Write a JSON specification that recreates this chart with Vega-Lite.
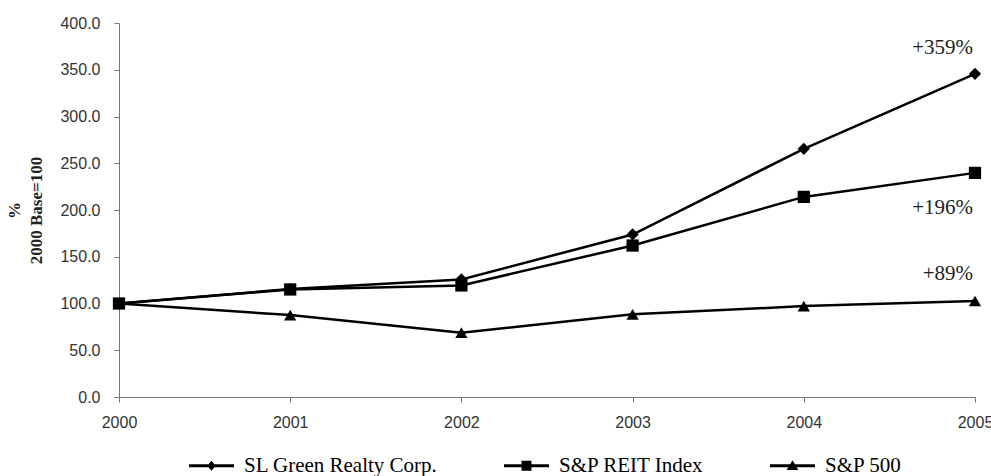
{
  "$schema": "https://vega.github.io/schema/vega-lite/v6.json",
  "width": 856,
  "height": 374,
  "autosize": {"type": "none"},
  "padding": {"left": 119, "top": 23, "right": 16, "bottom": 79},
  "background": "white",
  "config": {"view": {"stroke": null}, "axis": {"grid": false}},
  "data": {
    "values": [
      {"series": "SL Green Realty Corp.", "year": 2000, "value": 100},
      {"series": "SL Green Realty Corp.", "year": 2001, "value": 115.5},
      {"series": "SL Green Realty Corp.", "year": 2002, "value": 125.7},
      {"series": "SL Green Realty Corp.", "year": 2003, "value": 173.8},
      {"series": "SL Green Realty Corp.", "year": 2004, "value": 265.4},
      {"series": "SL Green Realty Corp.", "year": 2005, "value": 345.7},
      {"series": "S&P REIT Index", "year": 2000, "value": 100},
      {"series": "S&P REIT Index", "year": 2001, "value": 115},
      {"series": "S&P REIT Index", "year": 2002, "value": 119.3},
      {"series": "S&P REIT Index", "year": 2003, "value": 162},
      {"series": "S&P REIT Index", "year": 2004, "value": 214},
      {"series": "S&P REIT Index", "year": 2005, "value": 239.7},
      {"series": "S&P 500", "year": 2000, "value": 100},
      {"series": "S&P 500", "year": 2001, "value": 87.6},
      {"series": "S&P 500", "year": 2002, "value": 68.8},
      {"series": "S&P 500", "year": 2003, "value": 88.4},
      {"series": "S&P 500", "year": 2004, "value": 97.2},
      {"series": "S&P 500", "year": 2005, "value": 102.6}
    ]
  },
  "encoding": {
    "x": {
      "field": "year",
      "type": "quantitative",
      "scale": {"domain": [2000, 2005], "nice": false, "zero": false},
      "axis": {
        "values": [2000, 2001, 2002, 2003, 2004, 2005],
        "format": "d",
        "title": null,
        "tickSize": 5,
        "labelPadding": 12,
        "labelFlush": false,
        "labelFont": "Liberation Sans",
        "labelFontSize": 16,
        "labelColor": "#333",
        "domainColor": "#777",
        "tickColor": "#777"
      }
    },
    "y": {
      "field": "value",
      "type": "quantitative",
      "scale": {"domain": [0, 400], "nice": false},
      "axis": {
        "values": [0, 50, 100, 150, 200, 250, 300, 350, 400],
        "format": ".1f",
        "title": ["%", "2000 Base=100"],
        "titleFont": "Liberation Serif",
        "titleFontWeight": "bold",
        "titleFontSize": 17,
        "titleLineHeight": 22,
        "titleColor": "#222",
        "titlePadding": 14,
        "tickSize": 5,
        "labelPadding": 14,
        "labelFont": "Liberation Sans",
        "labelFontSize": 16,
        "labelColor": "#333",
        "domainColor": "#777",
        "tickColor": "#777"
      }
    }
  },
  "layer": [
    {
      "mark": {"type": "line", "color": "black", "strokeWidth": 2.5},
      "encoding": {"detail": {"field": "series"}}
    },
    {
      "mark": {"type": "point", "filled": true, "color": "black", "size": 150, "opacity": 1},
      "encoding": {
        "shape": {
          "field": "series",
          "type": "nominal",
          "scale": {
            "domain": ["SL Green Realty Corp.", "S&P REIT Index", "S&P 500"],
            "range": ["diamond", "square", "triangle-up"]
          },
          "legend": null
        }
      }
    },
    {
      "transform": [{"filter": "false"}],
      "mark": {"type": "point", "filled": true, "color": "black", "opacity": 1},
      "encoding": {
        "shape": {
          "field": "series",
          "type": "nominal",
          "scale": {
            "domain": ["SL Green Realty Corp.", "S&P REIT Index", "S&P 500"],
            "range": [
              "M-1,-0.065H1V0.065H-1ZM0,-0.22L0.19,0L0,0.22L-0.19,0Z",
              "M-1,-0.065H1V0.065H-1ZM-0.22,-0.22H0.22V0.22H-0.22Z",
              "M-1,-0.065H1V0.065H-1ZM0,-0.25L0.26,0.19L-0.26,0.19Z"
            ]
          },
          "legend": {
            "orient": "none",
            "legendX": 69,
            "legendY": 419,
            "direction": "horizontal",
            "title": null,
            "symbolSize": 2025,
            "symbolFillColor": "black",
            "symbolOpacity": 1,
            "labelFont": "Liberation Serif",
            "labelFontSize": 21,
            "labelColor": "black",
            "labelOffset": 9,
            "labelLimit": 400,
            "columnPadding": 63
          }
        }
      }
    },
    {
      "transform": [{"filter": "datum.series === 'SL Green Realty Corp.' && datum.year === 2005"}],
      "mark": {"type": "text", "text": "+359%", "align": "right", "baseline": "middle", "dx": -2, "dy": -26, "font": "Liberation Serif", "fontSize": 21, "color": "#222"}
    },
    {
      "transform": [{"filter": "datum.series === 'S&P REIT Index' && datum.year === 2005"}],
      "mark": {"type": "text", "text": "+196%", "align": "right", "baseline": "middle", "dx": -2, "dy": 35, "font": "Liberation Serif", "fontSize": 21, "color": "#222"}
    },
    {
      "transform": [{"filter": "datum.series === 'S&P 500' && datum.year === 2005"}],
      "mark": {"type": "text", "text": "+89%", "align": "right", "baseline": "middle", "dx": -2, "dy": -27, "font": "Liberation Serif", "fontSize": 21, "color": "#222"}
    }
  ],
  "resolve": {"scale": {"shape": "independent"}}
}
